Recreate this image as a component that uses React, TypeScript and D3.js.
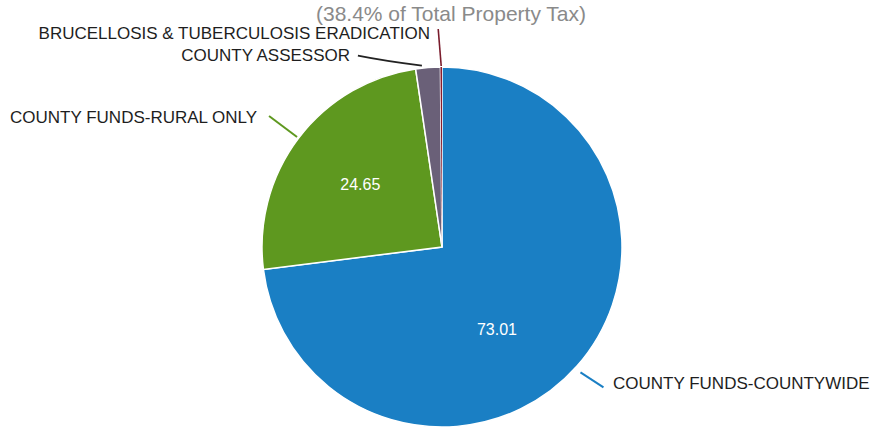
import React from "react";
import * as d3 from "d3";

const categories = [
  "COUNTY FUNDS-COUNTYWIDE",
  "COUNTY FUNDS-RURAL ONLY",
  "COUNTY ASSESSOR",
  "BRUCELLOSIS & TUBERCULOSIS ERADICATION",
];
const values = [73.01, 24.65, 2.2, 0.14];
const colors = ["#1a7fc4", "#5e981f", "#6a6078", "#8a1c2c"];
const lineColors = ["#1a7fc4", "#5e981f", "#222222", "#7a1c2c"];
const showValue = [true, true, false, false];
const subtitle = "(38.4% of Total Property Tax)";

export default function App() {
  const W = 874, H = 432;
  const cx = 442, cy = 247, R = 180;
  const data = categories.map((c, i) => ({ c, v: values[i], i }));
  const pie = d3.pie<any>().value((d) => d.v).sort(null).startAngle(0).endAngle(2 * Math.PI);
  const arcs = pie(data);
  const arc = d3.arc<any>().innerRadius(0).outerRadius(R);
  const labelArc = d3.arc<any>().innerRadius(R * 0.57).outerRadius(R * 0.57);

  const outer = (a: any, r: number) => {
    const m = (a.startAngle + a.endAngle) / 2;
    return [Math.sin(m) * r, -Math.cos(m) * r];
  };

  return (
    <svg width={W} height={H} style={{ position: "absolute", left: 0, top: 0, background: "#fff" }}
      fontFamily="'Liberation Sans', Arial, sans-serif">
      <text x={451} y={21} textAnchor="middle" fontSize={21} fill="#8a8a8a">{subtitle}</text>
      <g transform={`translate(${cx},${cy})`}>
        {arcs.map((a, i) => (
          <path key={i} d={arc(a) as string} fill={colors[i]} stroke="#fff" strokeWidth={i === 3 ? 0 : 1.5} />
        ))}
        {arcs.map((a, i) =>
          showValue[i] ? (
            <text key={"v" + i} x={i === 0 ? labelArc.centroid(a)[0] - 22 : labelArc.centroid(a)[0]}
              y={(i === 0 ? labelArc.centroid(a)[1] + 15 : labelArc.centroid(a)[1]) + 5}
              textAnchor="middle" fontSize={16} fill="#fff">
              {values[i].toFixed(2)}
            </text>
          ) : null
        )}
        {(() => {
          const [x0, y0] = outer(arcs[0], R + 2);
          return <path d={`M${x0 + 2},${y0 + 5}L${x0 + 25},${y0 + 20}`} stroke={lineColors[0]} strokeWidth={2} fill="none" />;
        })()}
        {(() => {
          const [x0, y0] = outer(arcs[1], R + 2);
          return <path d={`M${x0},${y0}L${x0 - 28},${y0 - 21}`} stroke={lineColors[1]} strokeWidth={2} fill="none" />;
        })()}
        {(() => {
          const [x0, y0] = outer(arcs[2], R + 1);
          return <path d={`M${x0 - 6},${y0 - 1}C${x0 - 30},${y0 - 4} ${x0 - 55},${y0 - 8} ${x0 - 70},${y0 - 11}`} stroke={lineColors[2]} strokeWidth={1.8} fill="none" />;
        })()}
        {(() => {
          const [x0, y0] = outer(arcs[3], R + 1);
          return <path d={`M${x0},${y0}L${x0 - 3},${y0 - 37}`} stroke={lineColors[3]} strokeWidth={1.6} fill="none" />;
        })()}
      </g>
      <text x={613} y={389} fontSize={17} fill="#1e1e1e">{categories[0]}</text>
      <text x={10} y={123} fontSize={17} fill="#1e1e1e">{categories[1]}</text>
      <text x={350} y={61} textAnchor="end" fontSize={17} fill="#1e1e1e">{categories[2]}</text>
      <text x={430} y={39} textAnchor="end" fontSize={17} fill="#1e1e1e">{categories[3]}</text>
    </svg>
  );
}
